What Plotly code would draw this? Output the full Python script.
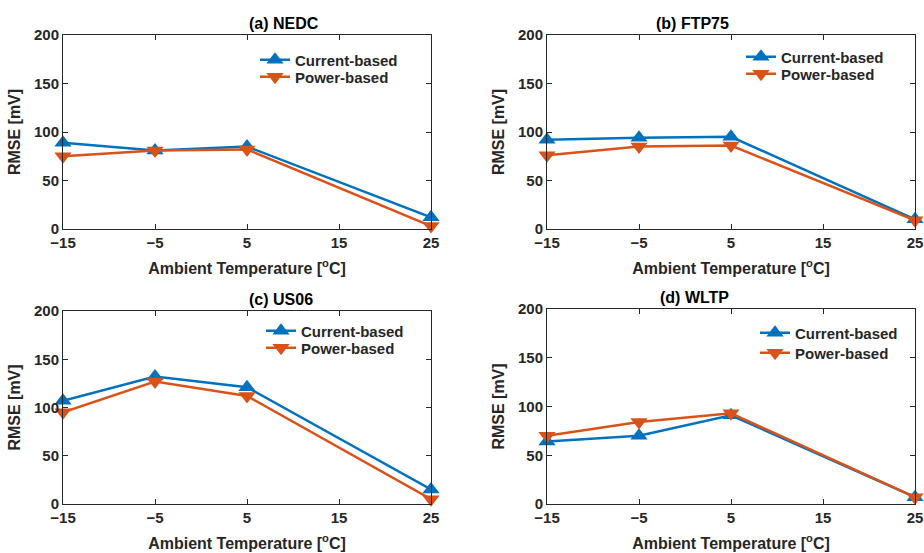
import plotly.graph_objects as go

temps = [-15, -5, 5, 25]
titles = ["(a) NEDC", "(b) FTP75", "(c) US06", "(d) WLTP"]
current_nedc = [89, 81, 85, 12]
power_nedc = [75, 81, 82, 3]
current_ftp75 = [92, 94, 95, 10]
power_ftp75 = [76, 85, 86, 9]
current_us06 = [107, 132, 121, 15]
power_us06 = [95, 127, 112, 5]
current_wltp = [64, 70, 91, 7]
power_wltp = [70, 84, 93, 7]
x_ticks = [-15, -5, 5, 15, 25]
y_ticks = [0, 50, 100, 150, 200]

current = [current_nedc, current_ftp75, current_us06, current_wltp]
power = [power_nedc, power_ftp75, power_us06, power_wltp]

BLUE = "#0072BD"
ORANGE = "#D95319"
FONT = "Liberation Sans, Arial, sans-serif"
TXT = "#262626"
W, H = 924, 553


def px(v):
    return v / W


def py(v):
    return 1 - v / H


# plot area boxes in pixels: (left, right, top, bottom)
boxes = [(63, 431, 35, 229), (547, 915, 35, 229), (63, 431, 311, 504), (547, 915, 309, 504)]
# legend text left x and row centre offsets (pixels from plot top)
leg_text_dx = [236, 238, 242, 252]
leg_rows = [(25, 42), (22, 39), (20, 37), (24, 44)]

fig = go.Figure()

for i in range(4):
    ax = "" if i == 0 else str(i + 1)
    l, r, t, b = boxes[i]
    leg_a = "legend" if i == 0 else f"legend{2 * i + 1}"
    leg_b = f"legend{2 * i + 2}"
    fig.add_trace(go.Scatter(
        x=temps, y=current[i], mode="lines+markers", name="<b>Current-based</b>",
        line=dict(color=BLUE, width=2.5),
        marker=dict(symbol="triangle-up", size=15, color=BLUE),
        xaxis="x" + ax, yaxis="y" + ax, legend=leg_a, cliponaxis=False))
    fig.add_trace(go.Scatter(
        x=temps, y=power[i], mode="lines+markers", name="<b>Power-based</b>",
        line=dict(color=ORANGE, width=2.5),
        marker=dict(symbol="triangle-down", size=15, color=ORANGE),
        xaxis="x" + ax, yaxis="y" + ax, legend=leg_b, cliponaxis=False))

    axis_common = dict(showline=True, linecolor=TXT, linewidth=1, mirror="ticks",
                       ticks="inside", ticklen=5, tickcolor=TXT, showgrid=False,
                       zeroline=False, automargin=False,
                       tickfont=dict(family=FONT, size=15, color=TXT, weight="bold"))
    legx = px(l + leg_text_dx[i] - 44)
    legend_common = dict(xanchor="left", yanchor="middle", bgcolor="rgba(0,0,0,0)",
                         font=dict(family=FONT, size=15, color=TXT), itemwidth=30)
    fig.update_layout(**{
        "xaxis" + ax: dict(domain=[px(l), px(r)], anchor="y" + ax, range=[-15, 25],
                           tickvals=x_ticks,
                           title=dict(text="<b>Ambient Temperature [<sup>o</sup>C]</b>",
                                      font=dict(family=FONT, size=16, color=TXT),
                                      standoff=12),
                           **axis_common),
        "yaxis" + ax: dict(domain=[py(b), py(t)], anchor="x" + ax, range=[0, 200],
                           tickvals=y_ticks,
                           title=dict(text="<b>RMSE [mV]</b>",
                                      font=dict(family=FONT, size=16, color=TXT),
                                      standoff=9),
                           **axis_common),
        leg_a: dict(x=legx, y=py(t + leg_rows[i][0]), **legend_common),
        leg_b: dict(x=legx, y=py(t + leg_rows[i][1]), **legend_common),
    })
    fig.add_annotation(text="<b>" + titles[i] + "</b>", xref="paper", yref="paper",
                       x=(px(l) + px(r)) / 2, y=py(t), yanchor="bottom", showarrow=False,
                       yshift=1, font=dict(family=FONT, size=16, color="#000000"))

fig.update_layout(width=W, height=H, margin=dict(l=0, r=0, t=0, b=0, autoexpand=False),
                  plot_bgcolor="white", paper_bgcolor="white", showlegend=True)

fig.write_html("out.html", config={"displayModeBar": False},
               post_script="document.body.style.margin='0';document.body.style.overflow='hidden';")
